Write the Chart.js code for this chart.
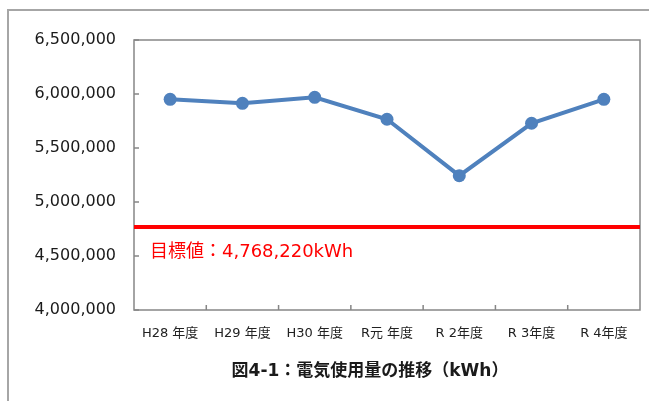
<!DOCTYPE html>
<html>
<head>
<meta charset="utf-8">
<script src="https://cdn.jsdelivr.net/npm/chart.js@4/dist/chart.umd.min.js"></script>
<style>
  body { margin: 0; background: #fff; }
  canvas { display: block; }
</style>
</head>
<body>
<canvas id="usageChart" width="649" height="401"></canvas>
<script>
// 電気使用量の推移
var categories = ['H28 年度', 'H29 年度', 'H30 年度', 'R元 年度', 'R 2年度', 'R 3年度', 'R 4年度'];
var usage = [5951000, 5914000, 5969000, 5766000, 5244000, 5729000, 5951000];
var target = 4768220;
var yMin = 4000000, yMax = 6500000, yStep = 500000;
var targetLabel = '目標値：4,768,220kWh';
var chartTitle = '図4-1：電気使用量の推移（kWh）';

var FONT = '"DejaVu Sans", "Noto Sans CJK JP", sans-serif';
var AXIS = '#868686';

var framePlugin = {
    id: 'frame',
    beforeDatasetsDraw: function (chart) {
        var ctx = chart.ctx, a = chart.chartArea;
        var x = chart.scales.x, y = chart.scales.y;
        ctx.save();
        // outer frame
        ctx.strokeStyle = '#a6a6a6';
        ctx.lineWidth = 2;
        ctx.beginPath();
        ctx.moveTo(8, 401);
        ctx.lineTo(8, 10);
        ctx.lineTo(649, 10);
        ctx.stroke();
        // plot frame
        ctx.strokeStyle = AXIS;
        ctx.lineWidth = 1.5;
        ctx.strokeRect(a.left, a.top, a.right - a.left, a.bottom - a.top);
        // inside ticks on y
        ctx.beginPath();
        y.ticks.forEach(function (t) {
            var py = y.getPixelForValue(t.value);
            ctx.moveTo(a.left, py);
            ctx.lineTo(a.left + 5, py);
        });
        // inside ticks on x (category boundaries)
        for (var i = 1; i < categories.length; i++) {
            var px = (x.getPixelForValue(i - 1) + x.getPixelForValue(i)) / 2;
            ctx.moveTo(px, a.bottom);
            ctx.lineTo(px, a.bottom - 5);
        }
        ctx.stroke();
        // target line
        var ty = y.getPixelForValue(target);
        ctx.strokeStyle = '#ff0000';
        ctx.lineWidth = 4;
        ctx.beginPath();
        ctx.moveTo(a.left, ty);
        ctx.lineTo(a.right, ty);
        ctx.stroke();
        ctx.fillStyle = '#ff0000';
        ctx.font = '18px ' + FONT;
        ctx.textBaseline = 'middle';
        ctx.textAlign = 'left';
        ctx.fillText(targetLabel, 150, ty + 25);
        // title
        ctx.fillStyle = '#1a1a1a';
        ctx.font = 'bold 17px ' + FONT;
        ctx.textAlign = 'center';
        ctx.fillText(chartTitle, 370, 372);
        ctx.restore();
    }
};

new Chart(document.getElementById('usageChart'), {
    type: 'line',
    data: {
        labels: categories,
        datasets: [{
            data: usage,
            borderColor: '#4f81bd',
            backgroundColor: '#4f81bd',
            borderWidth: 4,
            pointRadius: 6.5,
            pointBorderWidth: 0,
            tension: 0
        }]
    },
    options: {
        responsive: false,
        animation: false,
        layout: { padding: { left: 7, top: 40, right: 9, bottom: 0 } },
        plugins: { legend: { display: false }, tooltip: { enabled: false } },
        scales: {
            x: {
                offset: true,
                grid: { display: false },
                border: { display: false },
                ticks: { font: { family: FONT, size: 13 }, color: '#222', padding: 8, maxRotation: 0, autoSkip: false },
                afterFit: function (s) { s.height = 91; }
            },
            y: {
                min: yMin,
                max: yMax,
                grid: { display: false },
                border: { display: false },
                ticks: {
                    stepSize: yStep,
                    font: { family: FONT, size: 16 },
                    color: '#1a1a1a',
                    padding: 10,
                    callback: function (v) { return v.toLocaleString('en-US'); }
                },
                afterFit: function (s) { s.width = 127; }
            }
        }
    },
    plugins: [framePlugin]
});
</script>
</body>
</html>
